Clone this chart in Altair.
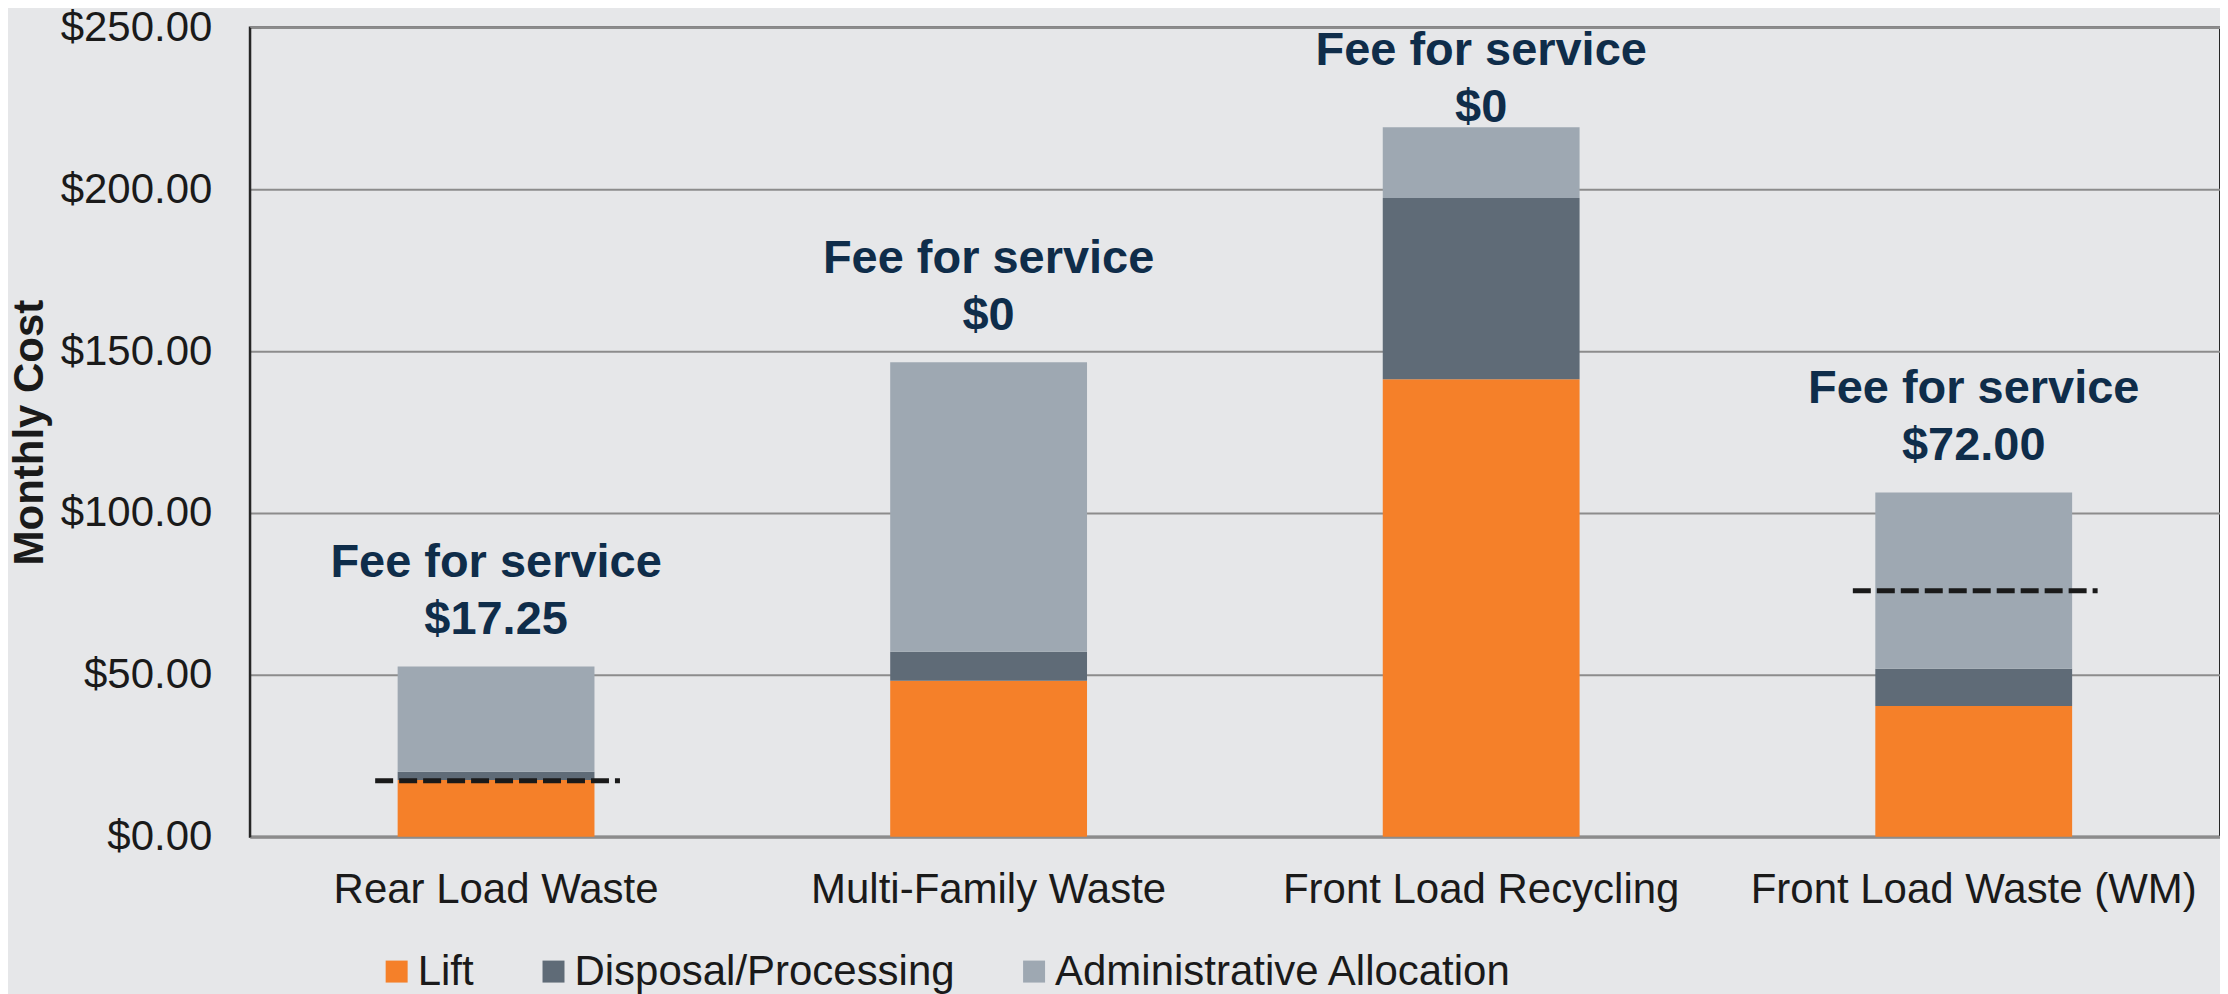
import altair as alt
import pandas as pd

# ---- data ----
categories = ["Rear Load Waste", "Multi-Family Waste", "Front Load Recycling", "Front Load Waste (WM)"]
components = ["Lift", "Disposal/Processing", "Administrative Allocation"]
lift = [17.5, 48.2, 141.3, 40.4]
disposal = [2.6, 8.9, 56.0, 11.45]
admin = [32.5, 89.5, 21.9, 54.45]
fee_labels = ["$17.25", "$0", "$0", "$72.00"]
fee_lines = [17.25, None, None, 76.0]
colors = ["#f58029", "#5f6b77", "#9ea8b2"]
y_ticks = [0, 50, 100, 150, 200, 250]

FONT = "Liberation Sans, Arial, sans-serif"

rows = []
for i, c in enumerate(categories):
    for j, (comp, vals) in enumerate(zip(components, [lift, disposal, admin])):
        rows.append({"category": c, "component": comp, "value": vals[i], "idx": j})
df = pd.DataFrame(rows)

totals = [l + d + a for l, d, a in zip(lift, disposal, admin)]
fee_df = pd.DataFrame({
    "category": categories,
    "fee": fee_labels,
    "label_y": [min(t + 10, 220.8) for t in totals],
})
line_df = pd.DataFrame({"category": categories, "fee_line": fee_lines}).dropna()

yscale = alt.Scale(domain=[0, 250], nice=False, zero=True)
xenc = alt.X(
    "category:N",
    sort=categories,
    scale=alt.Scale(paddingInner=0, paddingOuter=0),
    axis=alt.Axis(
        title=None, labelAngle=0, labelFontSize=42, labelFont=FONT, labelColor="#1a1a1a",
        labelPadding=33, ticks=False, grid=False, domainColor="#8c8c8c", domainWidth=3,
        labelLimit=0,
    ),
)

bars = alt.Chart(df).mark_bar(size=197).encode(
    x=xenc,
    y=alt.Y(
        "value:Q",
        stack="zero",
        scale=yscale,
        axis=alt.Axis(
            values=y_ticks, format="$,.2f", title="Monthly Cost",
            labelFontSize=42, labelFont=FONT, labelColor="#1a1a1a", labelPadding=38,
            ticks=False, grid=True, gridColor="#8c8c8c", gridWidth=2,
            domainColor="#262626", domainWidth=2,
            titleFontSize=42, titleFont=FONT, titleFontWeight="bold", titleColor="#1a1a1a",
            titleAngle=270, titleAlign="center", titleBaseline="alphabetic",
            titleX=-207, titleY=405,
        ),
    ),
    color=alt.Color(
        "component:N",
        scale=alt.Scale(domain=components, range=colors),
        legend=alt.Legend(
            orient="none", legendX=124, legendY=924, direction="horizontal", title=None,
            symbolType="square", symbolSize=484, symbolStrokeWidth=0, symbolOffset=2,
            labelFontSize=42, labelFont=FONT, labelColor="#1a1a1a", labelOffset=0,
            columnPadding=56, padding=0, labelLimit=0,
        ),
    ),
    order=alt.Order("idx:Q"),
)

rules = alt.Chart(line_df).mark_rule(
    strokeDash=[18, 6], strokeWidth=5, color="#1a1a1a", xOffset=-121, x2Offset=124
).encode(
    x=alt.X("category:N", sort=categories, bandPosition=0.5),
    x2=alt.X2("category", bandPosition=0.5),
    y=alt.Y("fee_line:Q", scale=yscale),
)

line1 = alt.Chart(fee_df).mark_text(
    font=FONT, fontSize=47, fontWeight="bold", color="#0f2d4a", baseline="alphabetic", dy=-57
).encode(
    x=alt.X("category:N", sort=categories),
    y=alt.Y("label_y:Q", scale=yscale),
    text=alt.value("Fee for service"),
)

line2 = alt.Chart(fee_df).mark_text(
    font=FONT, fontSize=47, fontWeight="bold", color="#0f2d4a", baseline="alphabetic"
).encode(
    x=alt.X("category:N", sort=categories),
    y=alt.Y("label_y:Q", scale=yscale),
    text="fee:N",
)

chart = alt.layer(bars, rules, line1, line2).properties(
    width=1972,
    height=810,
    background="#e6e7e9",
    autosize=alt.AutoSizeParams(type="none"),
    padding={"left": 242, "top": 19, "right": 0, "bottom": 157},
).configure_view(stroke="#262626", strokeWidth=2)

chart.save("out.html", embed_options={"renderer": "svg", "actions": False})
